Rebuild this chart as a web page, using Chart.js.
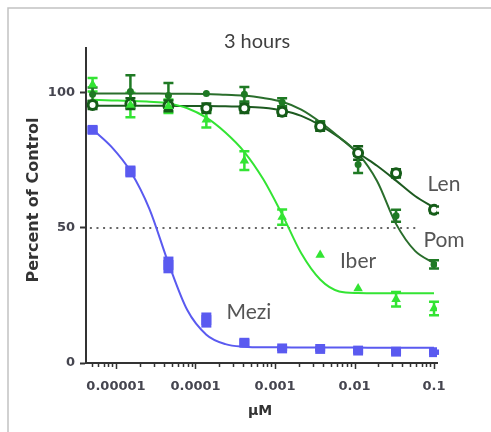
<!DOCTYPE html>
<html><head><meta charset="utf-8">
<script src="https://cdn.jsdelivr.net/npm/chart.js@4/dist/chart.umd.min.js"></script>
<style>html,body{margin:0;padding:0;background:#fff;}</style>
</head><body>
<canvas id="c" width="491" height="432"></canvas>
<script>
// ---- data (µM, 3-fold dilution) ----
const doses = [5.08e-6, 1.52e-5, 4.57e-5, 1.37e-4, 4.12e-4, 1.23e-3, 3.70e-3, 0.0111, 0.0333, 0.1];
const meziValues = [86.3, 70.9, 36.3, 15.9, 7.5, 5.4, 5.2, 4.6, 4.2, 4.0];
const meziErr    = [1.5, 2.2, 3.1, 2.8, 1.5, 1.0, 1.0, 1.2, 1.2, 1.0];
const iberValues = [103, 95.5, 95, 90, 74.9, 54, 40, 27.6, 23.6, 20.2];
const iberErr    = [2.5, 4.5, 2.5, 2.8, 3.5, 2.8, 0, 0, 2.7, 2.5];
const pomValues  = [99.5, 100.5, 99, 99.8, 99.5, 96.5, 88, 73.5, 54.5, 36.5];
const pomErr     = [2.5, 6, 4.6, 0, 2.7, 1.5, 1.5, 3.2, 2.2, 1.5];
const lenValues  = [95.5, 96, 95.2, 94.3, 94.3, 93, 87.5, 77.7, 70.2, 56.7];
const lenErr     = [1.5, 2, 2, 1.8, 1.8, 1.5, 1.5, 2.5, 1.5, 1.2];

// fitted curves
const curveX = [5.08e-6, 8.8e-6, 1.52e-5, 2.64e-5, 4.57e-5, 7.92e-5, 1.37e-4, 2.38e-4, 4.12e-4, 7.13e-4,
                1.23e-3, 2.14e-3, 3.70e-3, 6.42e-3, 0.0111, 0.0192, 0.0333, 0.0577, 0.1];
const meziCurve = [86.5, 80, 71, 57, 37, 19.5, 10.5, 7, 6, 5.8, 5.8, 5.7, 5.7, 5.7, 5.7, 5.6, 5.6, 5.6, 5.6];
const iberCurve = [97.4, 97.2, 97, 96.7, 96.1, 94.3, 90.8, 85.3, 78.1, 68, 55, 40.6, 30.9, 26.5, 25.9, 25.8, 25.8, 25.8, 25.8];
const pomCurve  = [99.8, 99.8, 99.8, 99.8, 99.7, 99.7, 99.6, 99.3, 99, 98.1, 96.7, 93.8, 89.2, 83.6, 77.5, 67.4, 51.5, 41.5, 37];
const lenCurve  = [95.2, 95.2, 95.2, 95.2, 95.2, 95.1, 95.1, 95, 94.9, 94.5, 93.5, 91.5, 88, 83.5, 77.8, 73, 67.5, 61.8, 57.5];

const refLineX = [4.7e-6, 0.061];
const refLineY = 50;
const seriesNames = ['Mezi', 'Iber', 'Pom', 'Len'];
const xTickValues = [1e-5, 1e-4, 1e-3, 1e-2, 1e-1];
const xTickLabels = ['0.00001', '0.0001', '0.001', '0.01', '0.1'];
const yTicks = [0, 50, 100];
const titleText = '3 hours';
const xTitle = 'µM';
const yTitle = 'Percent of Control';

// ---- styles ----
const C_MEZI = '#5a5af0', C_IBER = '#33e433', C_POM = '#1f7a24', C_LEN = '#155c18';
const L_POM = '#2a6e2c', L_LEN = '#1d5a20';
const TXT = '#45454f';

const pts = (vals) => doses.map((d, i) => ({x: d, y: vals[i]}));
const crv = (vals) => curveX.map((d, i) => ({x: d, y: vals[i]}));

const errorSets = [
  {vals: meziValues, err: meziErr, color: C_MEZI, style: 'block', w: 5},
  {vals: iberValues, err: iberErr, color: C_IBER, style: 'cap', w: 5},
  {vals: lenValues, err: lenErr, color: C_LEN, style: 'cap', w: 5},
  {vals: pomValues, err: pomErr, color: C_POM, style: 'cap', w: 5},
];

const decor = {
  id: 'decor',
  beforeDraw(chart) {
    const ctx = chart.ctx;
    ctx.save();
    ctx.fillStyle = '#fff';
    ctx.fillRect(0, 0, chart.width, chart.height);
    ctx.strokeStyle = '#c2c2c2';
    ctx.lineWidth = 1.5;
    ctx.strokeRect(8, 8, chart.width + 20, chart.height + 20);
    ctx.restore();
  },
  beforeDatasetsDraw(chart) {
    const xs = chart.scales.x, ys = chart.scales.y, ctx = chart.ctx;
    ctx.save();
    errorSets.forEach(s => {
      ctx.strokeStyle = s.color; ctx.fillStyle = s.color;
      s.vals.forEach((v, i) => {
        const e = s.err[i];
        if (!e) return;
        const px = xs.getPixelForValue(doses[i]);
        const t = ys.getPixelForValue(v + e), b = ys.getPixelForValue(v - e);
        if (s.style === 'block') {
          ctx.fillRect(px - s.w, t, 2 * s.w, b - t);
        } else {
          ctx.lineWidth = 2.5;
          ctx.beginPath();
          ctx.moveTo(px, t); ctx.lineTo(px, b);
          ctx.moveTo(px - s.w, t); ctx.lineTo(px + s.w, t);
          ctx.moveTo(px - s.w, b); ctx.lineTo(px + s.w, b);
          ctx.stroke();
        }
      });
    });
    ctx.restore();
  },
  afterDraw(chart) {
    const xs = chart.scales.x, ctx = chart.ctx;
    const area = chart.chartArea;
    ctx.save();
    // x tick marks (major / minor)
    ctx.strokeStyle = '#333';
    ctx.lineWidth = 1.5;
    xs.ticks.forEach(t => {
      const px = Math.round(xs.getPixelForValue(t.value)) + 0.5;
      const major = xTickValues.some(v => Math.abs(v - t.value) / v < 1e-6);
      ctx.beginPath();
      ctx.moveTo(px, area.bottom);
      ctx.lineTo(px, area.bottom + (major ? 6 : 4));
      ctx.stroke();
    });
    // title
    ctx.fillStyle = '#404040';
    ctx.font = '20px Lato';
    ctx.textAlign = 'center';
    ctx.textBaseline = 'middle';
    ctx.fillText(titleText, 257, 42);
    // axis titles
    ctx.fillStyle = '#333';
    ctx.font = 'bold 14px "DejaVu Sans"';
    ctx.fillText(xTitle, 260, 411);
    ctx.save();
    ctx.translate(34, 200);
    ctx.rotate(-Math.PI / 2);
    ctx.font = 'bold 16px "DejaVu Sans"';
    ctx.fillText(yTitle, 0, 0);
    ctx.restore();
    // series labels
    ctx.fillStyle = '#555';
    ctx.font = '21px Lato';
    const anchors = [[249, 312], [358, 261], [444, 240], [444, 184]];
    seriesNames.forEach((n, i) => ctx.fillText(n, anchors[i][0], anchors[i][1]));
    ctx.restore();
  }
};

new Chart(document.getElementById('c'), {
  type: 'scatter',
  data: {
    datasets: [
      {label: 'Mezi', data: pts(meziValues), pointStyle: 'rect', pointRadius: 7, backgroundColor: C_MEZI, borderColor: C_MEZI, borderWidth: 0},
      {label: 'Iber', data: pts(iberValues), pointStyle: 'triangle', pointRadius: 5.5, backgroundColor: C_IBER, borderColor: C_IBER, borderWidth: 0},
      {label: 'Len', data: pts(lenValues), pointStyle: 'circle', pointRadius: 4.5, backgroundColor: '#fff', borderColor: C_LEN, borderWidth: 3},
      {label: 'Pom', data: pts(pomValues), pointStyle: 'circle', pointRadius: 3.5, backgroundColor: C_POM, borderColor: C_POM, borderWidth: 0},
      {label: 'Mezi fit', data: crv(meziCurve), showLine: true, pointRadius: 0, borderColor: C_MEZI, borderWidth: 2, cubicInterpolationMode: 'monotone'},
      {label: 'Iber fit', data: crv(iberCurve), showLine: true, pointRadius: 0, borderColor: C_IBER, borderWidth: 2, cubicInterpolationMode: 'monotone'},
      {label: 'Pom fit', data: crv(pomCurve), showLine: true, pointRadius: 0, borderColor: L_POM, borderWidth: 2, cubicInterpolationMode: 'monotone'},
      {label: 'Len fit', data: crv(lenCurve), showLine: true, pointRadius: 0, borderColor: L_LEN, borderWidth: 2, cubicInterpolationMode: 'monotone'},
      {label: '50%', data: refLineX.map(x => ({x, y: refLineY})), showLine: true, pointRadius: 0, borderColor: '#666', borderWidth: 2, borderDash: [2, 4.6]}
    ]
  },
  options: {
    responsive: false,
    animation: false,
    devicePixelRatio: 1,
    layout: {padding: {top: 48, right: 54, left: 0, bottom: 0}},
    plugins: {legend: {display: false}, tooltip: {enabled: false}, title: {display: false}},
    events: [],
    scales: {
      x: {
        type: 'logarithmic', min: 4.2e-6, max: 0.109,
        grid: {display: false},
        border: {display: true, color: '#333', width: 2},
        afterBuildTicks(scale) {
          const t = [];
          for (let e = -6; e <= -1; e++) {
            for (let m = 1; m <= 9; m++) {
              const v = +(m * Math.pow(10, e)).toPrecision(3);
              if (v >= scale.min && v <= scale.max) t.push({value: v});
            }
          }
          scale.ticks = t;
        },
        ticks: {
          autoSkip: false, maxRotation: 0, minRotation: 0, padding: 8, color: TXT,
          font: {family: 'DejaVu Sans', weight: 'bold', size: 13},
          callback(v) {
            const i = xTickValues.findIndex(t => Math.abs(t - v) / t < 1e-6);
            return i >= 0 ? xTickLabels[i] : '';
          }
        },
        afterFit(scale) { scale.height = 69; }
      },
      y: {
        min: 0, max: 116.6,
        grid: {display: true, drawOnChartArea: false, drawTicks: true, tickLength: 6, tickWidth: 2, tickColor: '#333'},
        border: {display: true, color: '#333', width: 2},
        afterBuildTicks(scale) { scale.ticks = yTicks.map(v => ({value: v})); },
        ticks: {padding: 5, color: TXT, font: {family: 'DejaVu Sans', weight: 'bold', size: 13}},
        afterFit(scale) { scale.width = 86; }
      }
    }
  },
  plugins: [decor]
});
</script>
</body></html>
